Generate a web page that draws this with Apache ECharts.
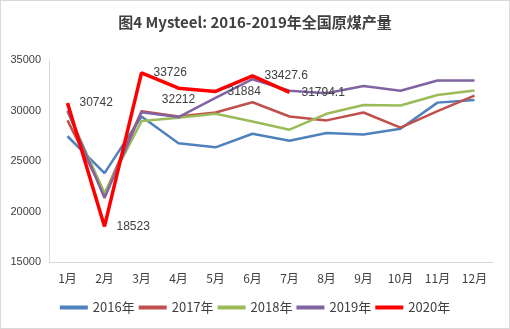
<!DOCTYPE html>
<html><head><meta charset="utf-8">
<script src="https://cdn.jsdelivr.net/npm/echarts@6/dist/echarts.min.js"></script>
<style>html,body{margin:0;padding:0;background:#fff}#c{width:510px;height:329px;box-sizing:border-box;border:1px solid #d9d9d9}</style>
</head><body><div id="c"></div>
<script>
const categories = ['1月','2月','3月','4月','5月','6月','7月','8月','9月','10月','11月','12月'];
const s2016 = [27450,23800,29400,26750,26350,27700,27000,27780,27620,28200,30780,31050];
const s2017 = [29020,21700,29930,29410,29800,30820,29410,29020,29800,28300,29930,31470];
const s2018 = [29900,21830,28950,29280,29670,28920,28100,29670,30550,30500,31530,31990];
const s2019 = [30000,21340,29830,29350,31240,33100,31960,31700,32420,31960,32970,32970];
const s2020 = [30742,18523,33726,32212,31884,33427.6,31794.1];
const seriesNames = ['2016年','2017年','2018年','2019年','2020年'];
const yTicks = [15000,20000,25000,30000,35000];

const chart = echarts.init(document.getElementById('c'));
const mk = (name, data, color, w, z) => ({name, type:'line', data, symbol:'none', z,
  lineStyle:{color, width:w}, itemStyle:{color}, emphasis:{disabled:true}});
const red = mk(seriesNames[4], s2020.map((v,i)=>({value:v, label:{position: i===3 ? 'bottom' : 'right', distance: i===3?6:12}})), '#FF0000', 3.5, 10);
red.symbol = 'circle';
red.symbolSize = 0;
red.showSymbol = true;
red.label = {show:true, color:'#404040', fontSize:12, fontFamily:'Liberation Sans, Arial', formatter: p => String(p.value)};
chart.setOption({
  animation:false,
  title:{text:'图4 Mysteel: 2016-2019年全国原煤产量', left:'center', top:9,
    textStyle:{fontSize:15, fontWeight:'bold', color:'#404040', fontFamily:'Noto Sans CJK SC'}},
  grid:{left:48, right:16, top:59, bottom:66},
  legend:{bottom:9, left:'center', itemWidth:28, itemHeight:4, itemGap:4,
    icon:'rect', textStyle:{fontSize:13, color:'#404040', fontFamily:'Noto Sans CJK SC'},
    data:seriesNames},
  xAxis:{type:'category', data:categories, boundaryGap:true,
    axisLine:{lineStyle:{color:'#d9d9d9'}}, axisTick:{show:false},
    axisLabel:{color:'#404040', fontSize:12, margin:10, fontFamily:'Noto Sans CJK SC'}},
  yAxis:{type:'value', min:yTicks[0], max:yTicks[yTicks.length-1], interval:5000,
    axisLine:{show:true, lineStyle:{color:'#d9d9d9'}}, axisTick:{show:false},
    splitLine:{show:false},
    axisLabel:{color:'#404040', fontSize:11, margin:8, fontFamily:'Liberation Sans, Arial', formatter: v => String(v)}},
  series:[
    mk(seriesNames[0], s2016, '#4F81BD', 2.5, 2),
    mk(seriesNames[1], s2017, '#C0504D', 2.5, 3),
    mk(seriesNames[2], s2018, '#9BBB59', 2.5, 4),
    mk(seriesNames[3], s2019, '#8064A2', 2.5, 5),
    red
  ]
});
</script></body></html>
